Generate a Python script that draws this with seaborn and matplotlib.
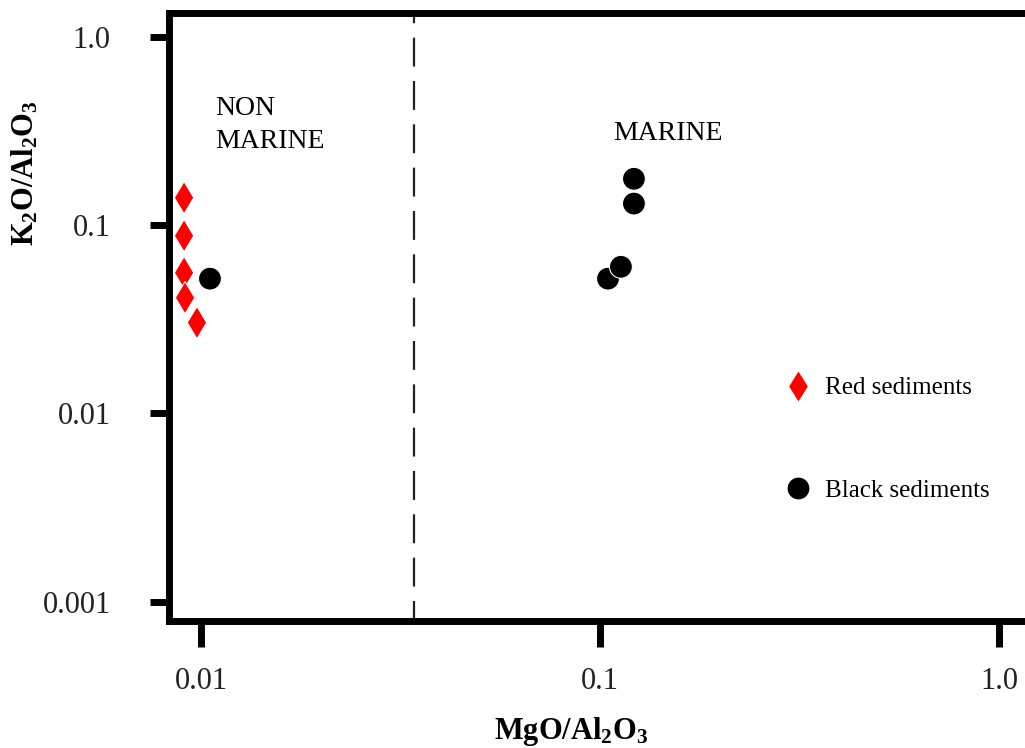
import matplotlib
matplotlib.use("Agg")
import matplotlib.pyplot as plt
import numpy as np
import pandas as pd
import seaborn as sns
from matplotlib.lines import Line2D

# ---- data ----
red_mgo = [0.00907, 0.00907, 0.00907, 0.00912, 0.00977]
red_k2o = [0.1396, 0.0877, 0.0558, 0.0411, 0.0303]
black_mgo = [0.01053, 0.1047, 0.1128, 0.1216, 0.1216]
black_k2o = [0.0519, 0.0519, 0.0600, 0.1300, 0.1760]
group_names = ["Red sediments", "Black sediments"]
x_ticks = [0.01, 0.1, 1.0]
x_tick_labels = ["0.01", "0.1", "1.0"]
y_ticks = [0.001, 0.01, 0.1, 1.0]
y_tick_labels = ["0.001", "0.01", "0.1", "1.0"]
boundary_mgo = 0.0342
region_labels = ["NON\nMARINE", "MARINE"]

df = pd.DataFrame({
    "MgO/Al2O3": red_mgo + black_mgo,
    "K2O/Al2O3": red_k2o + black_k2o,
    "group": [group_names[0]] * len(red_mgo) + [group_names[1]] * len(black_mgo),
})

sns.set_style("white")
plt.rcParams["font.family"] = ["Liberation Serif", "DejaVu Serif"]
plt.rcParams["mathtext.fontset"] = "custom"
plt.rcParams["mathtext.rm"] = "Liberation Serif"
plt.rcParams["mathtext.bf"] = "Liberation Serif:bold"
plt.rcParams["text.color"] = "black"
plt.rcParams["axes.labelcolor"] = "black"

fig = plt.figure(figsize=(10.25, 7.48), dpi=100)
W, H = 1025.0, 748.0
ax_l, ax_r, ax_t, ax_b = 169, 1035, 13, 621
ax = fig.add_axes([ax_l / W, 1 - ax_b / H, (ax_r - ax_l) / W, (ax_b - ax_t) / H])

palette = {group_names[0]: "#ff0000", group_names[1]: "#000000"}
markers = {group_names[0]: "d", group_names[1]: "o"}

ax.axvline(boundary_mgo, color="#222222", lw=1.6, linestyle=(4, (13, 6.5)), zorder=1)

sns.scatterplot(data=df, x="MgO/Al2O3", y="K2O/Al2O3", hue="group", style="group",
                palette=palette, markers=markers, s=272, edgecolor="white",
                linewidth=0.8, legend=False, ax=ax, zorder=3, clip_on=False)

ax.set_xscale("log")
ax.set_yscale("log")
ax.set_xlim(10 ** -2.0802, 10 ** 0.090)
ax.set_ylim(10 ** -3.103, 10 ** 0.126)
ax.set_xticks(x_ticks)
ax.set_xticklabels(x_tick_labels)
ax.set_yticks(y_ticks)
ax.set_yticklabels(y_tick_labels)
ax.minorticks_off()

for side in ["left", "top", "bottom"]:
    ax.spines[side].set_linewidth(5)
    ax.spines[side].set_color("black")
ax.spines["right"].set_visible(False)

ax.tick_params(axis="x", length=19, width=5, pad=14, labelsize=22, colors="black",
               direction="out", bottom=True)
ax.tick_params(axis="y", length=14, width=5, pad=28, labelsize=22, colors="black",
               direction="out", left=True)
for lab in ax.get_xticklabels() + ax.get_yticklabels():
    lab.set_color("#222222")

ax.set_xlabel(r"$\mathbf{MgO/Al_2O_3}$", fontsize=22)
ax.set_ylabel(r"$\mathbf{K_2O/Al_2O_3}$", fontsize=22)
ax.xaxis.set_label_coords((571 - ax_l) / (ax_r - ax_l), (ax_b - 732) / (ax_b - ax_t))
ax.xaxis.label.set_verticalalignment("center")
ax.yaxis.set_label_coords((25 - ax_l) / (ax_r - ax_l), (ax_b - 173) / (ax_b - ax_t))
ax.yaxis.label.set_verticalalignment("center")

ax.text((215 - ax_l) / (ax_r - ax_l), (ax_b - 96) / (ax_b - ax_t), region_labels[0],
        transform=ax.transAxes, ha="left", va="top", fontsize=20, linespacing=1.4,
        color="black")
ax.text((613 - ax_l) / (ax_r - ax_l), (ax_b - 121) / (ax_b - ax_t), region_labels[1],
        transform=ax.transAxes, ha="left", va="top", fontsize=20, color="black")

handles = [
    Line2D([], [], marker="d", color=palette[group_names[0]], linestyle="none",
           markersize=16.5, markeredgecolor="white", markeredgewidth=0.8),
    Line2D([], [], marker="o", color=palette[group_names[1]], linestyle="none",
           markersize=16.5, markeredgecolor="white", markeredgewidth=0.8),
]
leg = ax.legend(handles, group_names, loc="upper left",
                bbox_to_anchor=(785 / W, 1 - 377 / H), bbox_transform=fig.transFigure,
                frameon=False, fontsize=18, handlelength=1.0, handletextpad=0.6,
                labelspacing=3.2, borderpad=0, borderaxespad=0)
for t in leg.get_texts():
    t.set_color("black")

fig.savefig("out.png", dpi=100)
